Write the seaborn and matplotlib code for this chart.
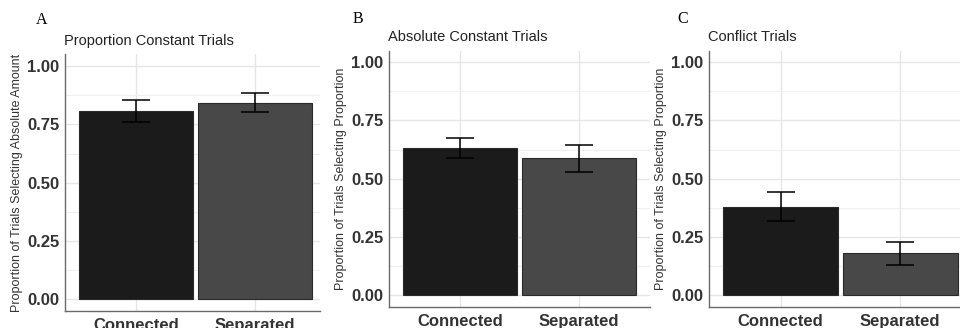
import matplotlib
matplotlib.use("Agg")
import matplotlib.pyplot as plt
import seaborn as sns
import pandas as pd
import numpy as np

# ---- data ----
groups = ["Connected", "Separated"]
panel_letters = ["A", "B", "C"]
titles = ["Proportion Constant Trials", "Absolute Constant Trials", "Conflict Trials"]
ylabels = ["Proportion of Trials Selecting Absolute Amount",
           "Proportion of Trials Selecting Proportion",
           "Proportion of Trials Selecting Proportion"]
means = [[0.808, 0.842], [0.633, 0.587], [0.379, 0.179]]
err_low = [[0.760, 0.803], [0.587, 0.530], [0.318, 0.129]]
err_high = [[0.856, 0.885], [0.676, 0.645], [0.441, 0.228]]
yticks = [0.00, 0.25, 0.50, 0.75, 1.00]
bar_colors = ["#1b1b1b", "#484848"]

sns.set_theme(style="whitegrid")
plt.rcParams["font.family"] = ["Liberation Sans", "DejaVu Sans"]

fig = plt.figure(figsize=(9.6, 3.28), dpi=100)
W, H = 960, 328

# axes boxes in pixels: left, right, top, bottom
boxes = [(65, 320, 54.4, 311), (389, 650, 50.7, 306.6), (709, 960, 50.7, 306.6)]
xlims = [(0.4, 2.55), (0.4, 2.6), (0.4, 2.5)]
letter_pos = [(42, 20), (358, 19), (683, 19)]

for i in range(3):
    l, r, t, b = boxes[i]
    ax = fig.add_axes([l / W, (H - b) / H, (r - l) / W, (b - t) / H])
    df = pd.DataFrame({"group": groups, "mean": means[i],
                       "lo": err_low[i], "hi": err_high[i]})
    df["x"] = [1, 2]
    sns.barplot(data=df, x="x", y="mean", hue="group", palette=bar_colors,
                native_scale=True, width=0.96, dodge=False, legend=False,
                edgecolor="#2a2a2a", linewidth=0.8, ax=ax, zorder=2)
    ax.errorbar(df["x"], df["mean"],
                yerr=[df["mean"] - df["lo"], df["hi"] - df["mean"]],
                fmt="none", ecolor="black", elinewidth=1.1, capsize=10,
                capthick=1.1, zorder=3)
    ax.set_xlim(*xlims[i])
    ax.set_ylim(-0.05, 1.05)
    ax.set_xticks([1, 2])
    ax.set_xticklabels(groups, fontsize=12, fontweight="bold", color="#333333")
    ax.set_yticks(yticks)
    ax.set_yticklabels([f"{v:.2f}" for v in yticks], fontsize=12,
                       fontweight="bold", color="#333333")
    ax.set_yticks([0.125, 0.375, 0.625, 0.875], minor=True)
    ax.grid(True, which="major", color="#e6e6e6", linewidth=1.0, zorder=0)
    ax.grid(True, which="minor", axis="y", color="#f0f0f0", linewidth=0.8, zorder=0)
    ax.tick_params(axis="y", which="both", length=0, pad=4)
    ax.tick_params(axis="x", which="both", length=0, pad=5)
    ax.set_facecolor("white")
    for s in ["top", "right"]:
        ax.spines[s].set_visible(False)
    for s in ["left", "bottom"]:
        ax.spines[s].set_visible(True)
        ax.spines[s].set_color("#6a6a6a")
        ax.spines[s].set_linewidth(1.0)
    ax.set_xlabel("")
    ax.set_ylabel(ylabels[i], fontsize=9.0, color="#333333", labelpad=3)
    ax.set_title(titles[i], fontsize=10.5, color="#222222", loc="left",
                 x=-0.005, pad=7)
    lx, ly = letter_pos[i]
    fig.text(lx / W, 1 - ly / H, panel_letters[i], fontsize=11.5,
             family="Liberation Serif", color="black", ha="center", va="center")

fig.savefig("out.png", dpi=100)
